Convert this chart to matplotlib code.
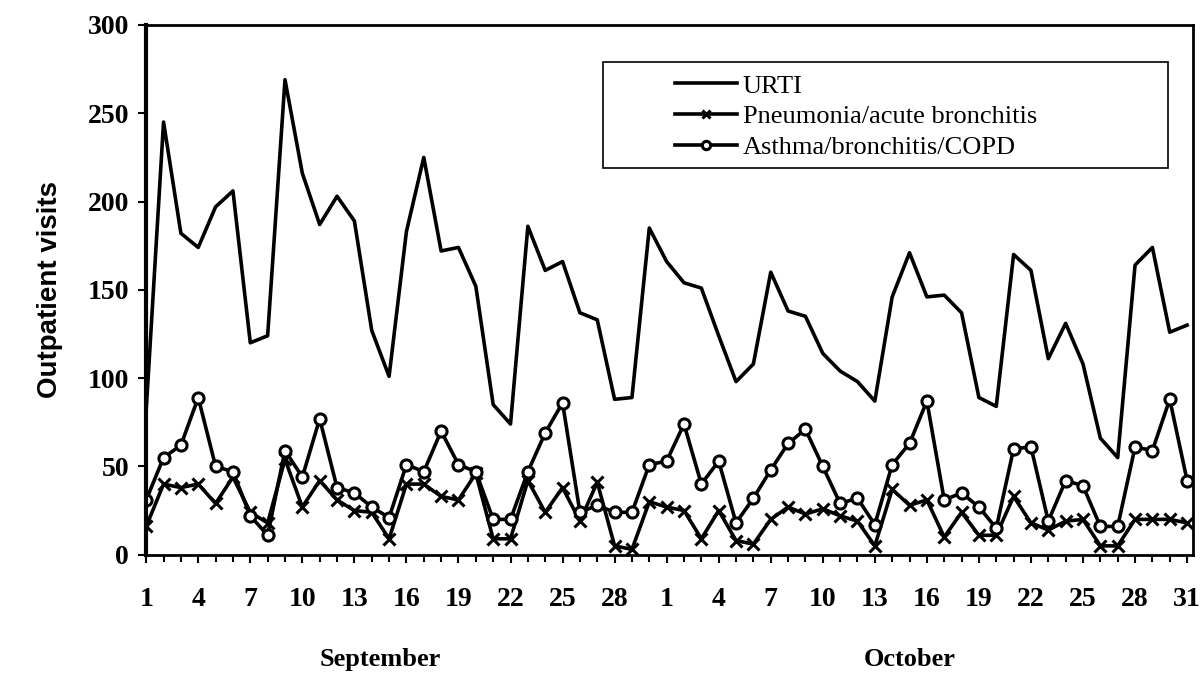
import matplotlib
matplotlib.use("Agg")
import matplotlib.pyplot as plt
from matplotlib.patches import Rectangle
import numpy as np

# daily outpatient visits, 1 September - 31 October
day_labels = list(range(1, 31)) + list(range(1, 32))

urti = [82, 245, 182, 174, 197, 206, 120, 124, 269, 216,
        187, 203, 189, 127, 101, 183, 225, 172, 174, 152,
        85, 74, 186, 161, 166, 137, 133, 88, 89, 185,
        166, 154, 151, 124, 98, 108, 160, 138, 135, 114,
        104, 98, 87, 146, 171, 146, 147, 137, 89, 84,
        170, 161, 111, 131, 108, 66, 55, 164, 174, 126, 130]

pneumonia = [16, 40, 38, 40, 29, 44, 24, 18, 54, 27,
             42, 31, 25, 24, 9, 40, 40, 33, 31, 46,
             9, 9, 42, 24, 38, 19, 41, 5, 3, 30,
             27, 25, 9, 25, 8, 6, 20, 27, 23, 26,
             22, 19, 5, 37, 28, 31, 10, 24, 11, 11,
             33, 18, 14, 19, 20, 5, 5, 20, 20, 20, 18]

asthma = [31, 55, 62, 89, 50, 47, 22, 11, 59, 44,
          77, 38, 35, 27, 21, 51, 47, 70, 51, 47,
          20, 20, 47, 69, 86, 24, 28, 24, 24, 51,
          53, 74, 40, 53, 18, 32, 48, 63, 71, 50,
          29, 32, 17, 51, 63, 87, 31, 35, 27, 15,
          60, 61, 19, 42, 39, 16, 16, 61, 59, 88, 42]

months = ["September", "October"]

x = np.arange(1, len(urti) + 1)

plt.rcParams['font.family'] = ['Liberation Serif', 'DejaVu Serif']

fig = plt.figure(figsize=(12.04, 6.74), dpi=100, facecolor='w')
ax = fig.add_axes([0.121, 0.177, 0.870, 0.786])

ax.plot(x, urti, color='black', linewidth=2.6, label='URTI')
ax.plot(x, pneumonia, color='black', linewidth=2.6, marker='x',
        markersize=8, markeredgewidth=2.2, label='Pneumonia/acute bronchitis')
ax.plot(x, asthma, color='black', linewidth=2.6, marker='o',
        markersize=8, markerfacecolor='white', markeredgewidth=2.2,
        label='Asthma/bronchitis/COPD')

ax.set_xlim(0.97, 61.35)
ax.set_ylim(0, 300)
ax.set_yticks(range(0, 301, 50))

major = x[::3]
ax.set_xticks(major)
ax.set_xticklabels([str(day_labels[i - 1]) for i in major])
ax.set_xticks(x, minor=True)

for sp in ax.spines.values():
    sp.set_linewidth(2)
ax.spines['left'].set_linewidth(3)
ax.tick_params(axis='both', which='both', direction='out', width=1.5, length=6)
ax.tick_params(axis='x', which='minor', length=5)
ax.tick_params(axis='y', labelsize=20, pad=6)
ax.tick_params(axis='x', labelsize=20, pad=17)
for lab in ax.get_xticklabels() + ax.get_yticklabels():
    lab.set_fontweight('bold')

ax.set_ylabel('Outpatient visits', fontsize=20, fontweight='bold', labelpad=18,
              family=['Liberation Sans Narrow', 'Liberation Sans', 'DejaVu Sans'])

# month labels under the day ticks
ax.text(14.5, -0.198, months[0], transform=ax.get_xaxis_transform(),
        ha='center', va='center', fontsize=19, fontweight='bold')
ax.text(45.0, -0.198, months[1], transform=ax.get_xaxis_transform(),
        ha='center', va='center', fontsize=19, fontweight='bold')

# legend, with its box drawn separately to keep the wide frame
leg = ax.legend(loc='upper left', bbox_to_anchor=(0.561, 0.890),
                bbox_transform=fig.transFigure, fontsize=19, frameon=False,
                handlelength=2.35, handletextpad=0.2, borderpad=0,
                borderaxespad=0, labelspacing=0.28, markerscale=0.75)
fig.patches.append(Rectangle((0.5008, 0.7507), 0.4693, 0.1573,
                             transform=fig.transFigure, fill=False,
                             edgecolor='black', linewidth=1.2))

fig.savefig('out.png', dpi=100)
